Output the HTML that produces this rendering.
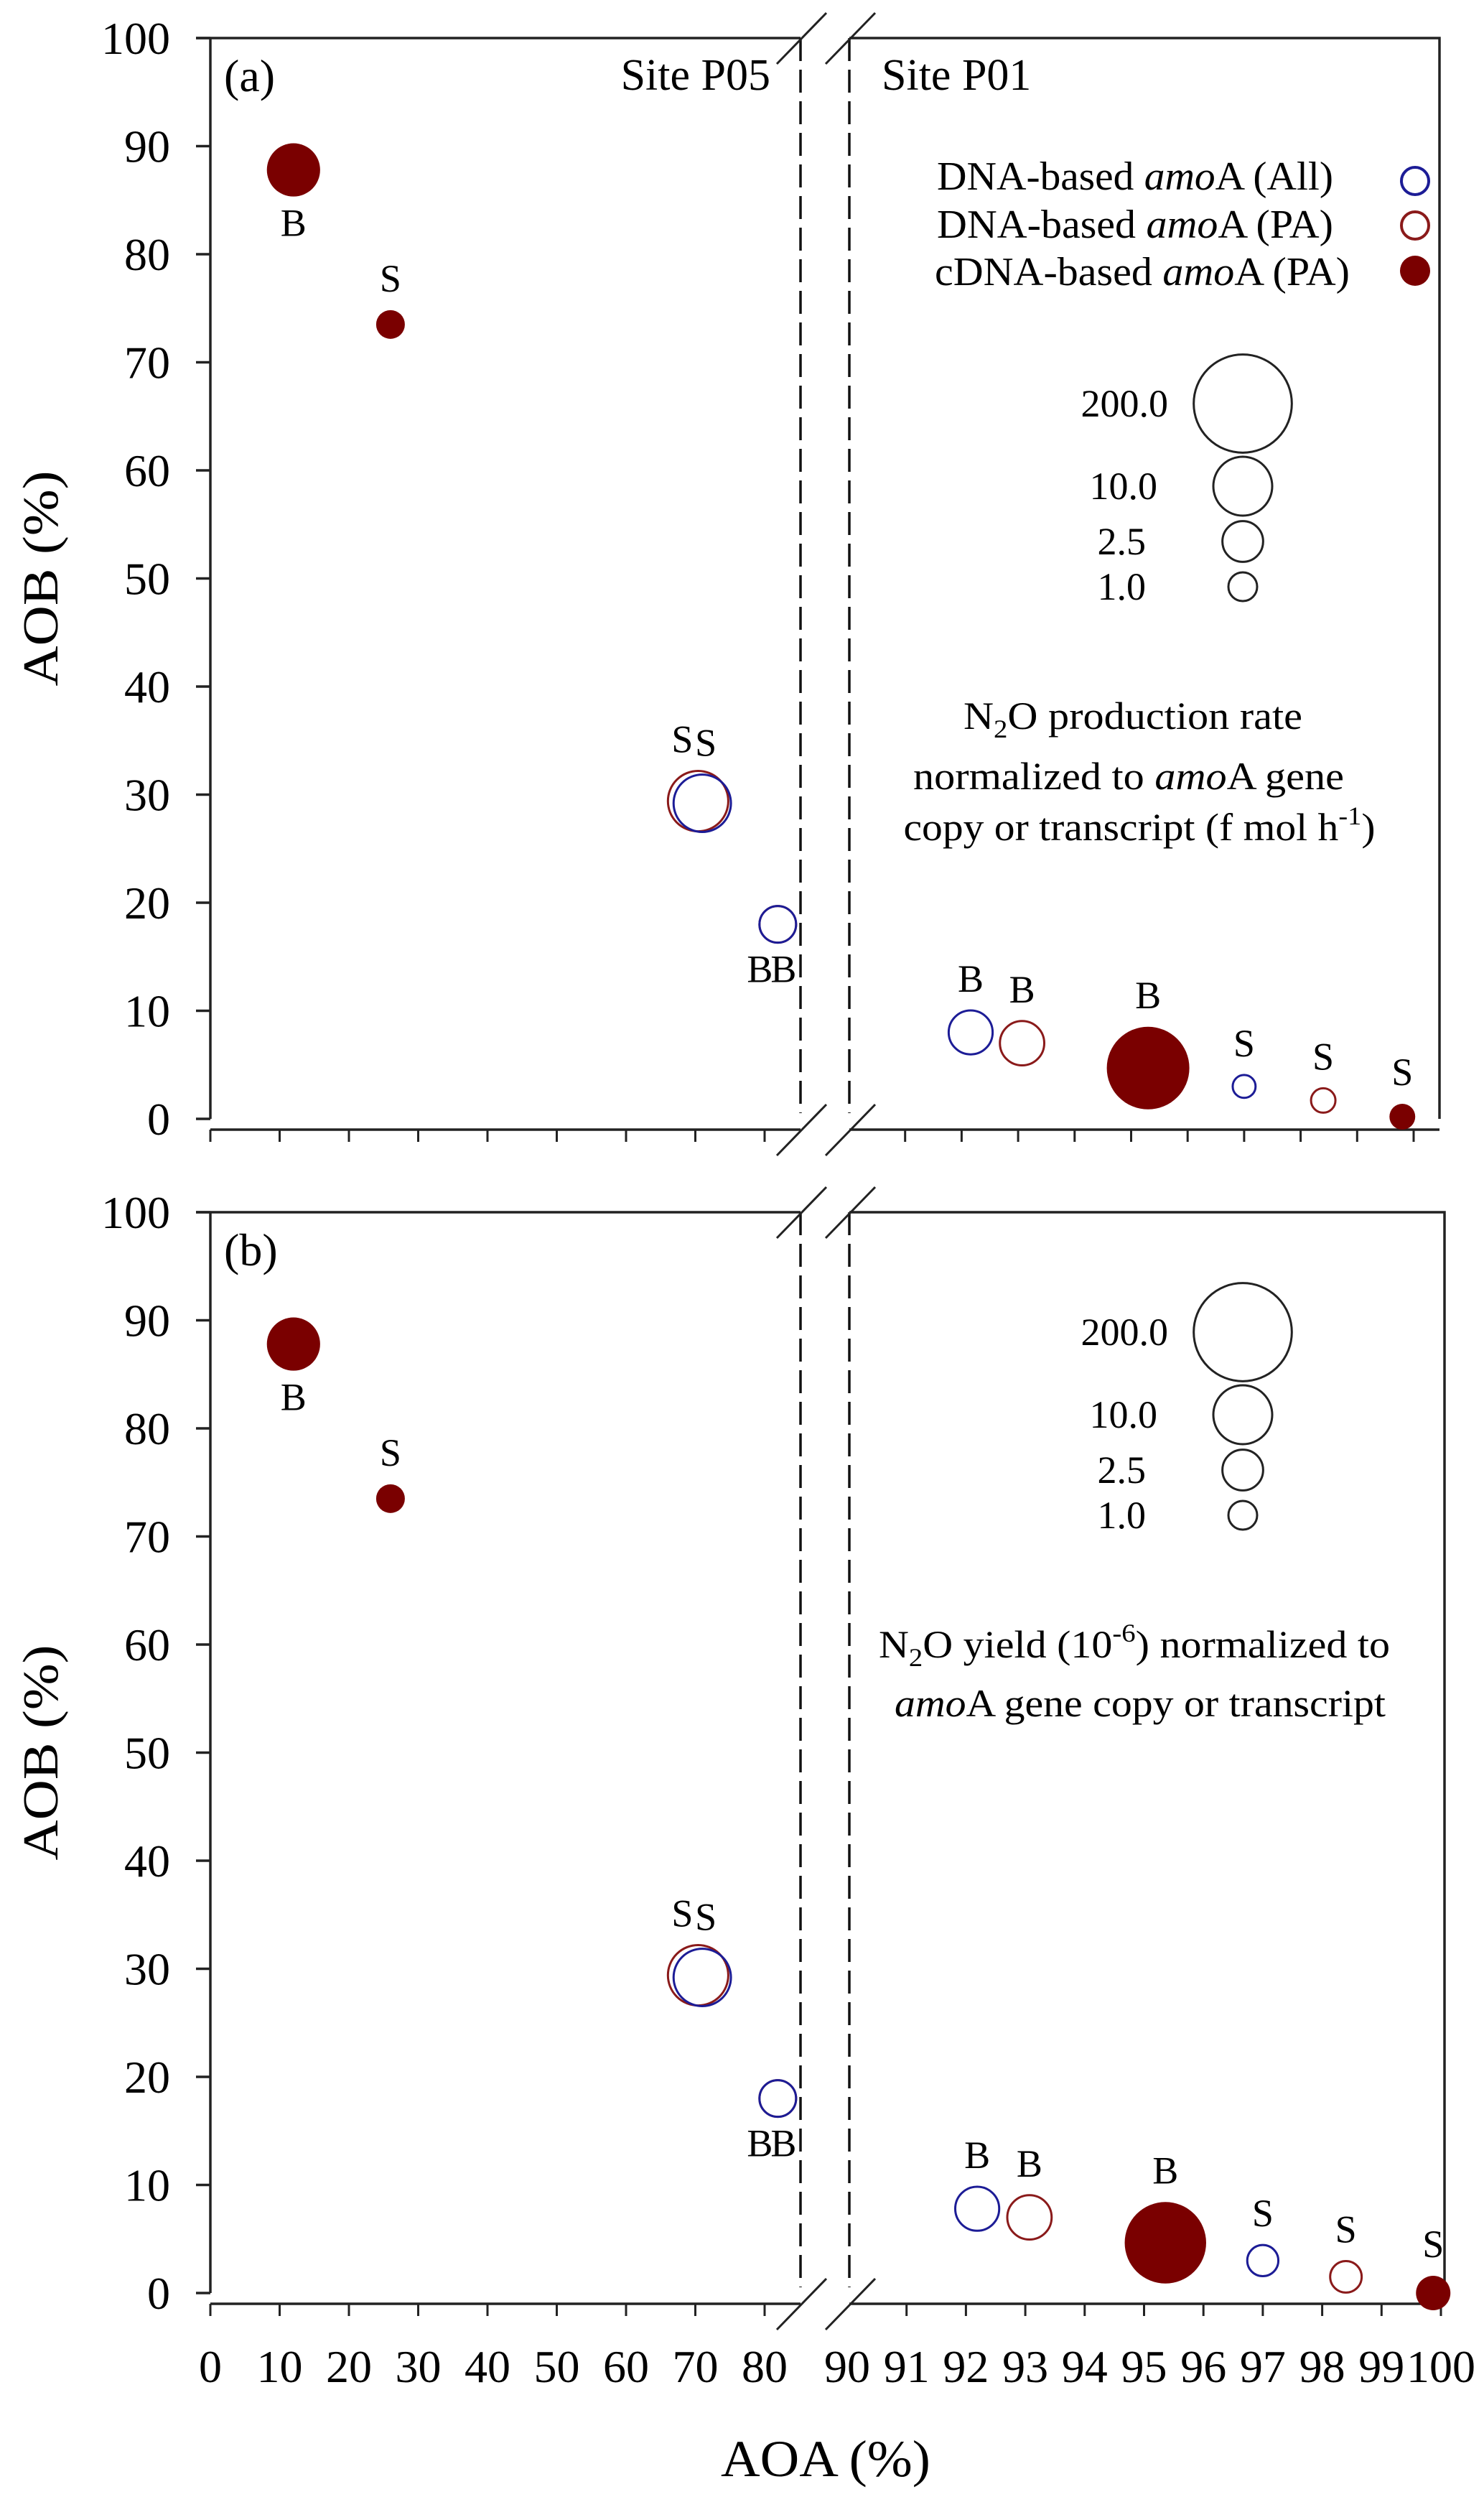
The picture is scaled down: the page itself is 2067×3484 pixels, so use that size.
<!DOCTYPE html>
<html><head><meta charset="utf-8"><style>
html,body{margin:0;padding:0;background:#fff;}
svg{display:block;font-family:"Liberation Serif",serif;}
</style></head><body>
<svg id="chart" width="2067" height="3484" viewBox="0 0 2067 3484" xmlns="http://www.w3.org/2000/svg">
<rect width="2067" height="3484" fill="#fff"/>
<g id="layer"></g>
<g font-size="56">
  <text x="1305" y="264" textLength="552" lengthAdjust="spacingAndGlyphs">DNA-based <tspan font-style="italic">amo</tspan>A (All)</text>
  <text x="1305" y="331" textLength="552" lengthAdjust="spacingAndGlyphs">DNA-based <tspan font-style="italic">amo</tspan>A (PA)</text>
  <text x="1302" y="397" textLength="578" lengthAdjust="spacingAndGlyphs">cDNA-based <tspan font-style="italic">amo</tspan>A (PA)</text>
  <circle cx="1971" cy="252" r="19" fill="none" stroke="#1c1c96" stroke-width="4"/>
  <circle cx="1971" cy="314" r="19" fill="none" stroke="#8a1a1a" stroke-width="4"/>
  <circle cx="1971" cy="377" r="21" fill="#7a0000"/>
</g>
<g font-size="54" text-anchor="middle">
  <text x="1578" y="1015" textLength="472" lengthAdjust="spacingAndGlyphs">N<tspan font-size="36" dy="12">2</tspan><tspan dy="-12">O production rate</tspan></text>
  <text x="1572" y="1099" textLength="600" lengthAdjust="spacingAndGlyphs">normalized to <tspan font-style="italic">amo</tspan>A gene</text>
  <text x="1587" y="1170" textLength="657" lengthAdjust="spacingAndGlyphs">copy or transcript (f mol h<tspan font-size="36" dy="-22">-1</tspan><tspan dy="22">)</tspan></text>
</g>
<g font-size="54" text-anchor="middle">
  <text x="1580" y="2308" textLength="712" lengthAdjust="spacingAndGlyphs">N<tspan font-size="36" dy="12">2</tspan><tspan dy="-12">O yield (10</tspan><tspan font-size="36" dy="-22">-6</tspan><tspan dy="22">) normalized to</tspan></text>
  <text x="1588" y="2390" textLength="684" lengthAdjust="spacingAndGlyphs"><tspan font-style="italic">amo</tspan>A gene copy or transcript</text>
</g>
<text x="1150" y="3448" font-size="72" text-anchor="middle" textLength="292" lengthAdjust="spacingAndGlyphs">AOA (%)</text>
<script>
const sizeLegendValues = [200.0, 10.0, 2.5, 1.0];
const sizeLegendLabels = ['200.0', '10.0', '2.5', '1.0'];
const yTicks = [0, 10, 20, 30, 40, 50, 60, 70, 80, 90, 100];
const xTicksLeft = [0, 10, 20, 30, 40, 50, 60, 70, 80];
const xTicksRight = [91, 92, 93, 94, 95, 96, 97, 98, 99, 100];
const xLabelsAll = ['0','10','20','30','40','50','60','70','80','90','91','92','93','94','95','96','97','98','99','100'];
const xLabelValues = [0,10,20,30,40,50,60,70,80,90,91,92,93,94,95,96,97,98,99,100];

const a_all_aoa = [71.0, 81.9, 92.16, 97.0];
const a_all_aob = [29.2, 18.0, 8.0, 3.0];
const a_all_size = [8.9, 1.83, 3.2, 0.64];
const a_all_lbl = ['S', 'B', 'B', 'S'];
const a_pa_aoa = [70.4, 81.9, 93.07, 98.4];
const a_pa_aob = [29.4, 18.0, 7.0, 1.7];
const a_pa_size = [11.2, 1.83, 3.3, 0.72];
const a_pa_lbl = ['S', 'B', 'B', 'S'];
const a_c_aoa = [12.0, 26.0, 95.3, 99.8];
const a_c_aob = [87.8, 73.5, 4.7, 0.2];
const a_c_size = [6.5, 1.0, 61, 0.8];
const a_c_lbl = ['B', 'S', 'B', 'S'];
const b_all_aoa = [71.0, 81.9, 92.19, 97.0];
const b_all_aob = [29.2, 18.0, 7.8, 3.0];
const b_all_size = [8.9, 1.83, 3.2, 1.2];
const b_all_lbl = ['S', 'B', 'B', 'S'];
const b_pa_aoa = [70.4, 81.9, 93.07, 98.4];
const b_pa_aob = [29.4, 18.0, 7.0, 1.5];
const b_pa_size = [11.2, 1.83, 3.3, 1.24];
const b_pa_lbl = ['S', 'B', 'B', 'S'];
const b_c_aoa = [12.0, 26.0, 95.36, 99.87];
const b_c_aob = [87.8, 73.5, 4.65, 0.0];
const b_c_size = [6.5, 1.0, 56, 1.55];
const b_c_lbl = ['B', 'S', 'B', 'S'];

const labelPlace = {all:['above','below','above','above'], pa:['above','below','above','above'], c:['below','above','above','above']};
const labelDx = {all:[5,8,0,0], pa:[-22,-25,0,0], c:[0,0,0,0]};
const NS = 'http://www.w3.org/2000/svg';
const layer = document.getElementById('layer');
function mk(tag, attrs, parent){const e=document.createElementNS(NS,tag);for(const k in attrs)e.setAttribute(k,attrs[k]);(parent||layer).appendChild(e);return e;}
function rOf(v){return Math.max(8, 20 + 21*Math.log10(v));}

const panels = [
  {id:'a', top:53, y0:1558, right:2005, x90:1182, s:78.7, legY:0, tag:'(a)',
   series:[['pa',a_pa_aoa,a_pa_aob,a_pa_size,a_pa_lbl],['all',a_all_aoa,a_all_aob,a_all_size,a_all_lbl],['c',a_c_aoa,a_c_aob,a_c_size,a_c_lbl]]},
  {id:'b', top:1688, y0:3193, right:2012, x90:1180, s:82.7, legY:1293, tag:'(b)',
   series:[['pa',b_pa_aoa,b_pa_aob,b_pa_size,b_pa_lbl],['all',b_all_aoa,b_all_aob,b_all_size,b_all_lbl],['c',b_c_aoa,b_c_aob,b_c_size,b_c_lbl]]}
];
const XL = 293, dashL = 1115, dashR = 1183;
const colors = {all:'#1c1c96', pa:'#8a1a1a', c:'#7a0000'};

panels.forEach(function(p){
  const ys = (p.y0 - p.top)/100;
  const yS = v => p.y0 - v*ys;
  const xS = v => v <= 85 ? XL + v*9.65 : p.x90 + (v-90)*p.s;
  const g = mk('g', {});
  
  
  const axisY = p.y0 + 15;
  const st = {stroke:'#222','stroke-width':3.5,fill:'none'};
  const frame = mk('path', Object.assign({d:
    `M${XL-20},${p.top} H${dashL} M${dashR},${p.top} H${p.right} V${p.y0} M${XL},${p.top} V${p.y0} ` +
    `M${XL},${axisY} H${dashL} M${dashR},${axisY} H${p.right}`}, st), g);
  
  
  [dashL, dashR].forEach(function(x){
    const d = mk('line', {x1:x, y1:p.top, x2:x, y2:p.y0-8, stroke:'#111','stroke-width':3.5,'stroke-dasharray':'32 12'}, g);
    
    
  });
  [p.top, axisY].forEach(function(yy){
    [dashL, dashR].forEach(function(x){
      const sl = mk('line', {x1:x-33, y1:yy+36, x2:x+36, y2:yy-35, stroke:'#222','stroke-width':3}, g);
      
      
    });
  });
  yTicks.forEach(function(t){
    const y = yS(t);
    const tk = mk('line', {x1:XL-20, y1:y, x2:XL, y2:y, stroke:'#222','stroke-width':3.5}, g);
    
    
    const tl = mk('text', {x:237, y:y+22, 'font-size':64, 'text-anchor':'end'}, g);
    tl.textContent = String(t);
    
    
  });
  xTicksLeft.concat(xTicksRight).forEach(function(t){
    const x = xS(t);
    const tk = mk('line', {x1:x, y1:axisY, x2:x, y2:axisY+17, stroke:'#222','stroke-width':3}, g);
    
    
  });
  if (p.id === 'b') {
    xLabelValues.forEach(function(v, i){
      const tl = mk('text', {x:xS(v), y:3317, 'font-size':64, 'text-anchor':'middle'}, g);
      tl.textContent = xLabelsAll[i];
      
      
    });
  }
  const yt = mk('text', {x:0, y:0, 'font-size':70, 'text-anchor':'middle', transform:`translate(80,${(p.top+p.y0)/2}) rotate(-90)`, textLength:300, lengthAdjust:'spacingAndGlyphs'}, g);
  yt.textContent = 'AOB (%)';
  
  
  const pt = mk('text', {x:312, y:p.top+74, 'font-size':64}, g);
  pt.textContent = p.tag;
  
  
  if (p.id === 'a') {
    const s1 = mk('text', {x:1073, y:125, 'font-size':62, 'text-anchor':'end'}, g);
    s1.textContent = 'Site P05';
    
    
    const s2 = mk('text', {x:1228, y:125, 'font-size':62}, g);
    s2.textContent = 'Site P01';
    
    
  }
  const lg = mk('g', {}, g);
  
  
  const legCy = [562, 677, 754, 817];
  const legTx = [1627, 1612, 1596, 1596];
  sizeLegendValues.forEach(function(v, i){
    const c = mk('circle', {cx:1731, cy:legCy[i]+p.legY, r:rOf(v), fill:'none', stroke:'#222','stroke-width':3}, lg);
    
    
    const t = mk('text', {x:legTx[i], y:legCy[i]+p.legY+18, 'font-size':54, 'text-anchor':'end'}, lg);
    t.textContent = sizeLegendLabels[i];
    
    
  });
  p.series.forEach(function(s){
    const key = s[0], X = s[1], Y = s[2], S = s[3], L = s[4];
    const sg = mk('g', {}, g);
    
    
    X.forEach(function(v, i){
      const cx = xS(v), cy = yS(Y[i]), r = rOf(S[i]);
      const attrs = key === 'c' ? {cx:cx, cy:cy, r:r, fill:colors.c} : {cx:cx, cy:cy, r:r, fill:'none', stroke:colors[key], 'stroke-width':3};
      const c = mk('circle', attrs, sg);
      
      
      const pl = labelPlace[key][i];
      const ly = pl === 'above' ? cy - r - 26 : cy + r + 55;
      const t = mk('text', {x:cx + labelDx[key][i], y:ly, 'font-size':54, 'text-anchor':'middle'}, sg);
      t.textContent = L[i];
      
      
    });
  });
});
</script>
</svg>
</body></html>
